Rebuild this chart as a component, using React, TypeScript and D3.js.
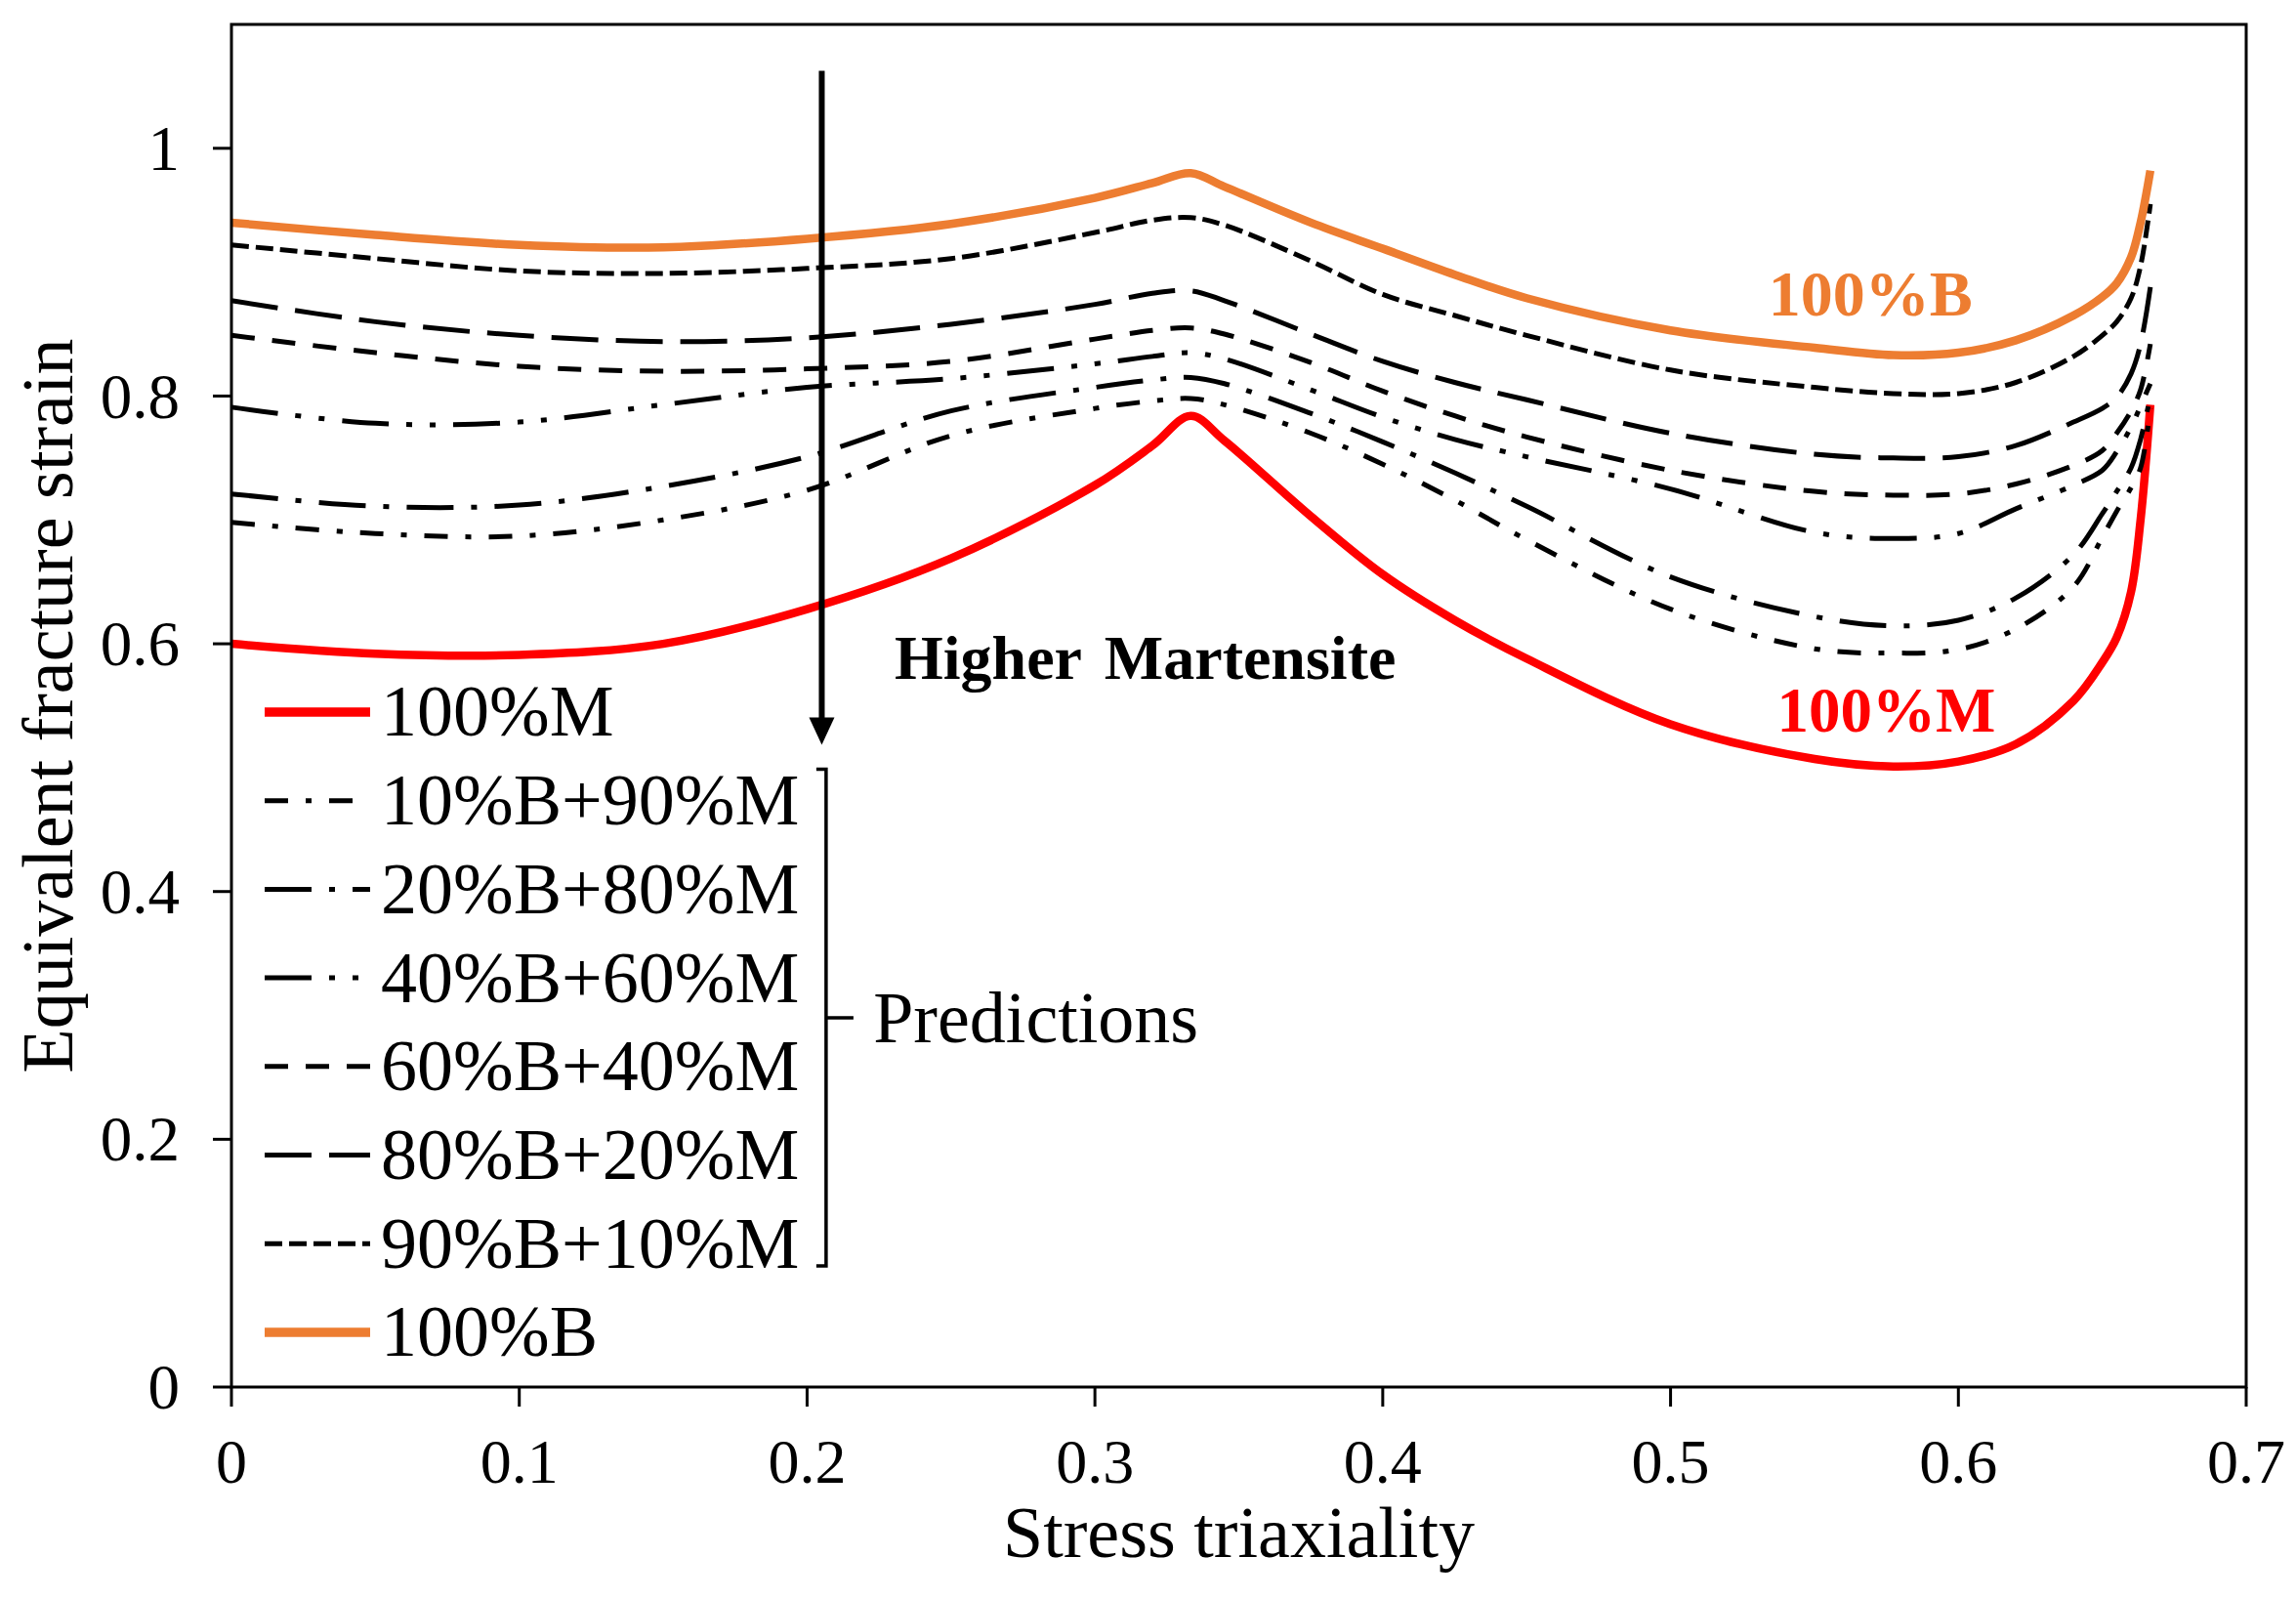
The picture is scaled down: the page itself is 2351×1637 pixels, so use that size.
import * as d3 from "d3"

// stress triaxiality sample points (shared by every curve)
const triaxiality = [
  0, 0.05, 0.1, 0.15, 0.2, 0.25, 0.3, 0.32, 0.3333, 0.345, 0.375, 0.4, 0.425, 0.45, 0.5, 0.55, 0.5774, 0.6, 0.62,
  0.64, 0.65, 0.655, 0.66, 0.6633, 0.6667,
]

// equivalent fracture strain
const strain100M = [
  0.6, 0.592, 0.591, 0.6, 0.628, 0.669, 0.728, 0.76, 0.784, 0.764, 0.703, 0.656, 0.619, 0.588, 0.535, 0.507, 0.501,
  0.505, 0.519, 0.554, 0.585, 0.605, 0.642, 0.7, 0.793,
]
const strain10B = [
  0.698, 0.689, 0.687, 0.7, 0.724, 0.768, 0.79, 0.796, 0.798, 0.793, 0.77, 0.745, 0.716, 0.684, 0.628, 0.596, 0.5925,
  0.5954, 0.612, 0.646, 0.686, 0.707, 0.726, 0.742, 0.79,
]
const strain20B = [
  0.721, 0.711, 0.712, 0.727, 0.751, 0.788, 0.807, 0.813, 0.815, 0.81, 0.786, 0.763, 0.738, 0.711, 0.654, 0.622,
  0.6145, 0.619, 0.637, 0.672, 0.705, 0.723, 0.742, 0.765, 0.8,
]
const strain40B = [
  0.791, 0.778, 0.779, 0.793, 0.807, 0.814, 0.826, 0.832, 0.835, 0.83, 0.805, 0.783, 0.765, 0.751, 0.725, 0.69, 0.685,
  0.689, 0.709, 0.728, 0.74, 0.755, 0.775, 0.792, 0.81,
]
const strain60B = [
  0.849, 0.835, 0.824, 0.82, 0.822, 0.828, 0.846, 0.853, 0.855, 0.85, 0.827, 0.804, 0.784, 0.767, 0.74, 0.723, 0.72,
  0.721, 0.729, 0.744, 0.756, 0.77, 0.788, 0.805, 0.842,
]
const strain80B = [
  0.877, 0.86, 0.849, 0.844, 0.847, 0.858, 0.874, 0.883, 0.885, 0.877, 0.85, 0.828, 0.811, 0.797, 0.77, 0.753, 0.75,
  0.751, 0.76, 0.779, 0.79, 0.799, 0.818, 0.842, 0.888,
]
const strain90B = [
  0.922, 0.911, 0.901, 0.899, 0.903, 0.911, 0.932, 0.942, 0.944, 0.938, 0.909, 0.882, 0.865, 0.849, 0.821, 0.807,
  0.802, 0.802, 0.811, 0.832, 0.849, 0.86, 0.879, 0.905, 0.955,
]
const strain100B = [
  0.94, 0.93, 0.922, 0.92, 0.927, 0.939, 0.96, 0.972, 0.98, 0.969, 0.94, 0.919, 0.898, 0.879, 0.853, 0.839, 0.833,
  0.835, 0.845, 0.865, 0.88, 0.891, 0.912, 0.94, 0.982,
]

const legendNames = [
  "100%M",
  "10%B+90%M",
  "20%B+80%M",
  "40%B+60%M",
  "60%B+40%M",
  "80%B+20%M",
  "90%B+10%M",
  "100%B",
]

const xTicks = [0, 0.1, 0.2, 0.3, 0.4, 0.5, 0.6, 0.7]
const yTicks = [0, 0.2, 0.4, 0.6, 0.8, 1]

const W = 2351
const H = 1637
const margin = { top: 25, right: 51, bottom: 217, left: 237 }
const FONT = "'Liberation Serif', 'Times New Roman', serif"
const ORANGE = "#ed7d31"
const RED = "#ff0000"

const series = [
  { name: legendNames[0], values: strain100M, color: RED, width: 8.5, dash: undefined },
  { name: legendNames[1], values: strain10B, color: "#000", width: 5, dash: "24 18 6 18" },
  { name: legendNames[2], values: strain20B, color: "#000", width: 5, dash: "48 18 6 18" },
  { name: legendNames[3], values: strain40B, color: "#000", width: 5, dash: "48 18 6 18 6 18" },
  { name: legendNames[4], values: strain60B, color: "#000", width: 5, dash: "24 18" },
  { name: legendNames[5], values: strain80B, color: "#000", width: 5, dash: "48 18" },
  { name: legendNames[6], values: strain90B, color: "#000", width: 5, dash: "18 7" },
  { name: legendNames[7], values: strain100B, color: ORANGE, width: 8.5, dash: undefined },
]

export default function App() {
  const x = d3.scaleLinear().domain([0, 0.7]).range([margin.left, W - margin.right])
  const y = d3.scaleLinear().domain([0, 1.1]).range([H - margin.bottom, margin.top])

  const line = d3
    .line<number>()
    .x((_, i) => x(triaxiality[i]))
    .y((d) => y(d))
    .curve(d3.curveCatmullRom.alpha(0.5))

  const x0 = x(0)
  const x1 = x(0.7)
  const yBottom = y(0)
  const yTop = y(1.1)

  // annotation anchors (data units)
  const arrowX = x(0.2051)
  const arrowTop = y(1.0626)
  const arrowTip = y(0.5185)
  const brX = x(0.2066)
  const brTop = y(0.4988)
  const brBottom = y(0.0977)
  const brMid = y(0.298)

  const legendX = 271
  const legendY0 = 729
  const legendStep = 90.7

  return (
    <svg
      width={W}
      height={H}
      viewBox={`0 0 ${W} ${H}`}
      style={{ position: "absolute", left: 0, top: 0, background: "#fff" }}
      fontFamily={FONT}
    >
      <rect x={0} y={0} width={W} height={H} fill="#fff" />

      {/* curves */}
      <g fill="none">
        {series.map((s) => (
          <path
            key={s.name}
            d={line(s.values) || ""}
            stroke={s.color}
            strokeWidth={s.width}
            strokeDasharray={s.dash}
            strokeLinejoin="round"
          />
        ))}
      </g>

      {/* frame */}
      <rect x={x0} y={yTop} width={x1 - x0} height={yBottom - yTop} fill="none" stroke="#000" strokeWidth={3} />

      {/* y axis */}
      {yTicks.map((t) => (
        <g key={"y" + t}>
          <line x1={x0 - 19} x2={x0} y1={y(t)} y2={y(t)} stroke="#000" strokeWidth={3} />
          <text x={184} y={y(t)} dy="0.34em" textAnchor="end" fontSize={65} fill="#000">
            {String(t)}
          </text>
        </g>
      ))}

      {/* x axis */}
      {xTicks.map((t) => (
        <g key={"x" + t}>
          <line x1={x(t)} x2={x(t)} y1={yBottom} y2={yBottom + 20} stroke="#000" strokeWidth={3} />
          <text x={x(t)} y={1518} textAnchor="middle" fontSize={64} fill="#000">
            {String(t)}
          </text>
        </g>
      ))}

      <text x={(x0 + x1) / 2} y={1594} textAnchor="middle" fontSize={74} fill="#000">
        Stress triaxiality
      </text>
      <text
        transform={`translate(74, ${(yTop + yBottom) / 2}) rotate(-90)`}
        textAnchor="middle"
        fontSize={74}
        fill="#000"
      >
        Equivalent fracture strain
      </text>

      {/* arrow */}
      <line x1={arrowX} x2={arrowX} y1={arrowTop} y2={arrowTip - 20} stroke="#000" strokeWidth={6} />
      <path
        d={`M${arrowX - 13},${arrowTip - 28} L${arrowX + 13},${arrowTip - 28} L${arrowX},${arrowTip} Z`}
        fill="#000"
      />
      <text x={x(0.2304)} y={y(0.5713)} fontSize={64} fontWeight="bold" fill="#000" wordSpacing={8}>
        Higher Martensite
      </text>

      {/* curve labels */}
      <text x={x(0.534)} y={y(0.865)} fontSize={66} fontWeight="bold" fill={ORANGE}>
        100%B
      </text>
      <text x={x(0.537)} y={y(0.529)} fontSize={65} fontWeight="bold" fill={RED}>
        100%M
      </text>

      {/* legend */}
      {series.map((s, i) => {
        const ly = legendY0 + i * legendStep
        return (
          <g key={"leg" + s.name}>
            <line
              x1={legendX}
              x2={legendX + 108}
              y1={ly}
              y2={ly}
              stroke={s.color}
              strokeWidth={s.dash ? s.width : 9.5}
              strokeDasharray={s.dash}
            />
            <text x={390} y={ly} dy="0.33em" fontSize={74} fill="#000">
              {s.name}
            </text>
          </g>
        )
      })}

      {/* predictions bracket */}
      <path
        d={`M${brX - 10},${brTop} H${brX} V${brBottom} H${brX - 10} M${brX},${brMid} H${brX + 28}`}
        fill="none"
        stroke="#000"
        strokeWidth={3.5}
      />
      <text x={x(0.223)} y={brMid} dy="0.33em" fontSize={74} fill="#000">
        Predictions
      </text>
    </svg>
  )
}
